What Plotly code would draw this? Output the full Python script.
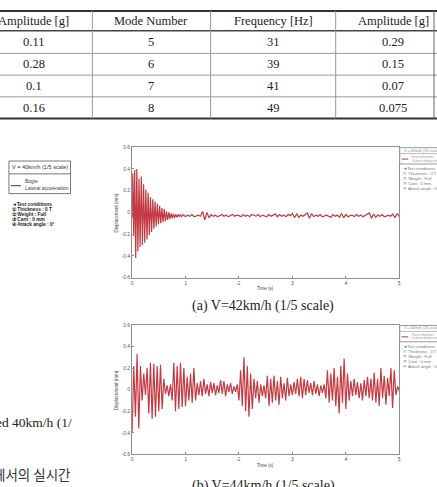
import plotly.graph_objects as go

W, H = 437, 487

# ---------------- table data ----------------
table_headers = ["Amplitude [g]", "Mode Number", "Frequency [Hz]", "Amplitude [g]"]
amp_left = [0.11, 0.28, 0.1, 0.16]
mode_numbers = [5, 6, 7, 8]
frequencies_hz = [31, 39, 41, 49]
amp_right = [0.29, 0.15, 0.07, 0.075]

# ---------------- chart (a): V=42km/h ----------------
a_times_start = [0.000, 0.012, 0.030, 0.048, 0.068, 0.088, 0.108, 0.130, 0.150, 0.172,
                 0.193, 0.215, 0.236, 0.258, 0.279, 0.301, 0.322, 0.344, 0.365, 0.387,
                 0.408, 0.430, 0.451, 0.473, 0.494, 0.516, 0.537, 0.559, 0.580, 0.602,
                 0.623, 0.645, 0.666, 0.688, 0.709, 0.731, 0.752, 0.774, 0.795, 0.817,
                 0.838, 0.860, 0.881, 0.903, 0.924]
a_values_start = [-0.05, 0.36, -0.22, 0.39, -0.42, 0.40, -0.36, 0.31, -0.32, 0.33,
                  -0.30, 0.26, -0.28, 0.21, -0.25, 0.18, -0.21, 0.14, -0.18, 0.12,
                  -0.15, 0.10, -0.13, 0.08, -0.11, 0.06, -0.10, 0.04, -0.09, 0.03,
                  -0.08, 0.01, -0.07, 0.00, -0.06, -0.01, -0.055, -0.015, -0.05, -0.02,
                  -0.045, -0.02, -0.04, -0.02, -0.04]
a_noise_t0 = 0.96
a_noise_dt = 0.04
a_values_noise = [
    -0.02, -0.04, -0.025, -0.035, -0.02, -0.04, -0.03, -0.025, -0.035,
    0.01, -0.07, 0.00, -0.05,
    -0.02, -0.035, -0.025, -0.04, -0.03, -0.02, -0.035, -0.025, -0.04, -0.03, -0.02, -0.035, -0.025,
    -0.03, -0.04, -0.02, -0.035, -0.025, -0.04, -0.02, -0.03, -0.035, -0.02, -0.04, -0.025, -0.03,
    -0.04, -0.02, -0.035, -0.025, -0.015, -0.04, -0.02, -0.035, -0.025, -0.04, -0.02, -0.03,
    -0.01, -0.05, -0.015, -0.045, -0.025, -0.035, -0.02,
    -0.005, -0.055, -0.01,
    -0.04, -0.025, -0.035, -0.02, -0.04, -0.03, -0.025, -0.035, -0.045, -0.02, -0.035, -0.025, -0.045,
    -0.01, -0.05, -0.02, -0.04,
    -0.03, -0.025, -0.04, -0.02, -0.035, -0.025, -0.04, -0.03, -0.02,
    -0.005, -0.055, -0.015, -0.045,
    -0.025, -0.035, -0.02, -0.04, -0.03, -0.025, -0.035, -0.015, -0.05,
    -0.01, -0.04,
]

# ---------------- chart (b): V=44km/h ----------------
b_dt = 1 / 32
b_values = [
    -0.40, 0.22, -0.25, 0.33, -0.36, 0.22, -0.10, 0.15, -0.05, 0.20, -0.22, 0.25, -0.27, 0.24, -0.25, 0.22,
    -0.20, 0.23, -0.18, 0.10, -0.04, 0.04, -0.06, 0.05, -0.10, 0.25, -0.20, 0.22, -0.18, 0.25, -0.16, 0.20,
    -0.15, 0.12, -0.10, 0.15, -0.12, 0.20, -0.10, 0.06, -0.05, 0.08, -0.06, 0.10, -0.04, 0.05, -0.06, 0.07,
    -0.03, 0.06, -0.05, 0.04, -0.03, 0.09, -0.04, 0.08, -0.06, 0.05, -0.02, 0.06, -0.04, 0.03, -0.02, 0.05,
    -0.10, 0.18, -0.15, 0.30, -0.20, 0.22, -0.25, 0.15, -0.18, 0.10, -0.08, 0.08, -0.12, 0.05, -0.06, 0.04,
    -0.08, 0.13, -0.15, 0.10, -0.12, 0.13, -0.10, 0.08, -0.14, 0.12, -0.08, 0.06, -0.10, 0.11, -0.06, 0.05,
    -0.05, 0.07, -0.04, 0.10, -0.06, 0.12, -0.08, 0.10, -0.05, 0.09, -0.03, 0.06, -0.05, 0.08, -0.04, 0.05,
    -0.06, 0.04, -0.03, 0.05, -0.08, 0.18, -0.12, 0.15, -0.10, 0.20, -0.15, 0.12, -0.22, 0.22, -0.12, 0.29,
    -0.18, 0.15, -0.10, 0.08, -0.06, 0.10, -0.05, 0.07, -0.08, 0.06, -0.10, 0.09, -0.06, 0.12, -0.08, 0.10,
    -0.10, 0.16, -0.12, 0.10, -0.15, 0.20, -0.08, 0.13, -0.14, 0.11, -0.06, 0.20, -0.17, 0.18, -0.05, 0.03,
    -0.01,
]

x_ticks = [0, 1, 2, 3, 4, 5]
y_ticks = [-0.6, -0.4, -0.2, 0, 0.2, 0.4, 0.6]
y_tick_labels = ["-0.6", "-0.4", "-0.2", "0", "0.2", "0.4", "0.6"]

test_conditions = ["\u25c4Test conditions", "\u2460 Thickness : 0 T", "\u2461 Weight : Full",
                   "\u2462 Cant : 0 mm", "\u2463 Attack angle : 0\u00b0"]

# ---------------- helpers ----------------
def X(px):
    return px / W


def Y(py):
    return 1 - py / H


RED = "#c23a42"
AXC = "#8e8e8e"
SERIF = "Liberation Serif, Times New Roman, serif"
NARROW = "Liberation Sans Narrow, Liberation Sans, Arial, sans-serif"

annotations = []
shapes = []


def ann(text, x, y, size, family=SERIF, color="#222", xanchor="center", yanchor="middle", angle=0):
    annotations.append(dict(text=text, x=X(x), y=Y(y), xref="paper", yref="paper",
                            showarrow=False, xanchor=xanchor, yanchor=yanchor, textangle=angle,
                            font=dict(size=size, family=family, color=color)))


def hline(x0, x1, y, color, width):
    shapes.append(dict(type="line", xref="paper", yref="paper", x0=X(x0), x1=X(x1),
                       y0=Y(y), y1=Y(y), line=dict(color=color, width=width)))


def vline(x, y0, y1, color, width):
    shapes.append(dict(type="line", xref="paper", yref="paper", x0=X(x), x1=X(x),
                       y0=Y(y0), y1=Y(y1), line=dict(color=color, width=width)))


# ---------------- table ----------------
row_lines = [8, 28, 51, 73, 95, 117]
col_lines = [92, 211, 337]
col_centers = [33, 151.5, 274, 395]
hline(-5, 445, row_lines[0], "#333", 2)
hline(-5, 445, row_lines[1], "#444", 1.5)
for yy in row_lines[2:-1]:
    hline(-5, 445, yy, "#999", 1)
hline(-5, 445, row_lines[-1], "#333", 2)
for xx in col_lines:
    vline(xx, row_lines[0], row_lines[-1], "#999", 1)
vline(436, row_lines[0], row_lines[-1], "#666", 1)

for c, htxt in zip(col_centers, table_headers):
    ann(htxt, c, (row_lines[0] + row_lines[1]) / 2, 12.5)
columns = [amp_left, mode_numbers, frequencies_hz, amp_right]
for r in range(4):
    yc = (row_lines[r + 1] + row_lines[r + 2]) / 2
    for c, col in zip(col_centers, columns):
        ann(str(col[r]), c, yc, 12.5)

# ---------------- charts ----------------
plot_left, plot_right = 132, 401
plots = [(146, 278, "V = 42km/h (1/5 scale)", "(a) V=42km/h (1/5 scale)", 307),
         (326, 457, "V = 44km/h (1/5 scale)", "(b) V=44km/h (1/5 scale)", 489)]

for top, bot, legtxt, caption, cap_y in plots:
    # axis titles
    ann("Time (s)", 266, bot + 11.5, 4.5, family="Liberation Sans, Arial", color="#444")
    ann("Displacement (mm)", 116, (top + bot) / 2, 4.5, family="Liberation Sans, Arial",
        color="#444", angle=-90)
    # caption
    ann(caption, 264, cap_y, 14)
    # right-side legend box
    shapes.append(dict(type="rect", xref="paper", yref="paper", x0=X(401.5), x1=X(446),
                       y0=Y(top + 17), y1=Y(top + 0.5), line=dict(color="#999", width=1)))
    hline(401.5, 446, top + 6.5, "#aaa", 0.8)
    ann(legtxt, 404, top + 3.5, 3.5, family=NARROW, color="#888", xanchor="left")
    hline(403.5, 410, top + 12, RED, 1)
    ann("Front wheelset", 412, top + 9.8, 3.3, family=NARROW, color="#999", xanchor="left")
    ann("Lateral displacement", 412, top + 13.6, 3.3, family=NARROW, color="#999", xanchor="left")
    for i, t in enumerate(test_conditions):
        ann(t, 403, top + 22 + 5 * i, 4.2, family=NARROW, color="#777", xanchor="left")

# ---------------- left fragments ----------------
shapes.append(dict(type="rect", xref="paper", yref="paper", x0=X(8), x1=X(70),
                   y0=Y(193), y1=Y(160), line=dict(color="#777", width=1)))
hline(8, 70, 173, "#777", 1)
ann("V = 40km/h (1/5 scale)", 39, 166.5, 5.6, family=NARROW, color="#333")
hline(10, 20, 185, "#333", 1)
ann("Bogie", 22, 180.5, 5, family=NARROW, color="#444", xanchor="left")
ann("Lateral acceleration", 22, 187, 5, family=NARROW, color="#444", xanchor="left")
for i, t in enumerate(test_conditions):
    ann("<b>" + t + "</b>", 9, 204 + 5.1 * i, 4.8, family=NARROW, color="#222", xanchor="left")

ann("speed 40km/h (1/", 74, 425, 13.5, xanchor="right")
ann("에서의 실시간", 73, 477, 13.5, family="Noto Sans CJK KR", xanchor="right", color="#333")

# ---------------- traces ----------------
a_times = a_times_start + [a_noise_t0 + a_noise_dt * i for i in range(len(a_values_noise))]
a_values = a_values_start + a_values_noise
b_times = [b_dt * i for i in range(len(b_values))]

fig = go.Figure()
fig.add_trace(go.Scatter(x=a_times, y=a_values, mode="lines",
                         line=dict(color=RED, width=1.2), xaxis="x", yaxis="y",
                         hoverinfo="skip"))
fig.add_trace(go.Scatter(x=b_times, y=b_values, mode="lines",
                         line=dict(color=RED, width=1.2), xaxis="x2", yaxis="y2",
                         hoverinfo="skip"))


def xaxis_cfg(anchor):
    return dict(domain=[X(plot_left), X(plot_right)], range=[0, 5], anchor=anchor,
                tickvals=x_ticks, ticks="inside", ticklen=2, tickcolor=AXC,
                showline=True, mirror=True, linecolor=AXC, linewidth=1,
                showgrid=False, zeroline=False, fixedrange=True,
                tickfont=dict(size=5, color="#555", family="Liberation Sans, Arial"))


def yaxis_cfg(anchor, top, bot):
    return dict(domain=[Y(bot), Y(top)], range=[-0.6, 0.6], anchor=anchor,
                tickvals=y_ticks, ticktext=y_tick_labels, ticks="inside", ticklen=2,
                tickcolor=AXC, showline=True, mirror=True, linecolor=AXC, linewidth=1,
                showgrid=False, zeroline=False, fixedrange=True,
                tickfont=dict(size=5, color="#555", family="Liberation Sans, Arial"))


fig.update_layout(
    width=W, height=H, margin=dict(l=0, r=0, t=0, b=0, pad=0),
    paper_bgcolor="white", plot_bgcolor="white", showlegend=False,
    xaxis=xaxis_cfg("y"), yaxis=yaxis_cfg("x", 146, 278),
    xaxis2=xaxis_cfg("y2"), yaxis2=yaxis_cfg("x2", 326, 457),
    shapes=shapes, annotations=annotations,
)

fig.write_html("out.html", config={"displayModeBar": False})
